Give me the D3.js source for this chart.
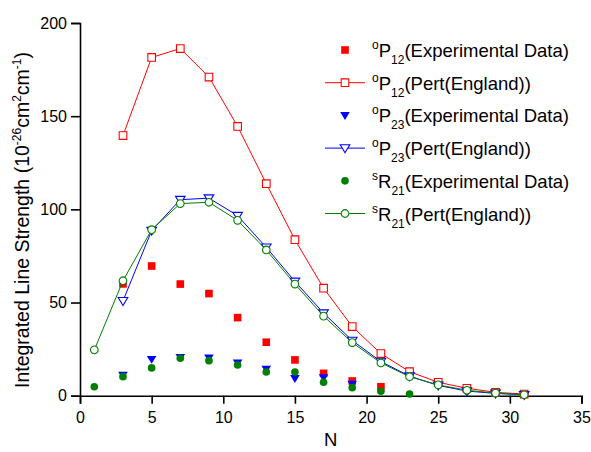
<!DOCTYPE html>
<html>
<head>
<meta charset="utf-8">
<script src="https://cdn.jsdelivr.net/npm/d3@7"></script>
<style>
  html, body { margin: 0; padding: 0; background: #fff; }
  svg { display: block; font-family: Arial, "Liberation Sans", sans-serif; }
</style>
</head>
<body>
<svg id="chart" width="591" height="452"></svg>
<script>
// Rotational quantum number N
const nPert = [3, 5, 7, 9, 11, 13, 15, 17, 19, 21, 23, 25, 27, 29, 31];
const nPertR = [1, 3, 5, 7, 9, 11, 13, 15, 17, 19, 21, 23, 25, 27, 29, 31];

// oP12 branch
const p12ExpN = [3, 5, 7, 9, 11, 13, 15, 17, 19, 21];
const p12Exp = [60, 69.6, 59.9, 54.8, 41.9, 28.7, 19.2, 12, 7.9, 4.8];
const p12Pert = [139.6, 181.5, 186.3, 171, 144.5, 113.8, 83.7, 57.7, 37.1, 22.6, 12.9, 7.2, 4, 1.8, 0.9];

// oP23 branch
const p23ExpN = [3, 5, 7, 9, 11, 13, 15, 17, 19];
const p23Exp = [11.1, 19.6, 20.6, 20.3, 17.7, 14.3, 9.3, 9.7, 6.3];
const p23Pert = [50.9, 88.6, 105.2, 106, 96.6, 79.6, 61.3, 44.3, 29.6, 18.3, 10.5, 5.5, 2.5, 1.2, 0.5];

// sR21 branch
const r21ExpN = [1, 3, 5, 7, 9, 11, 13, 15, 17, 19, 21, 23];
const r21Exp = [4.8, 10.2, 14.9, 20.1, 18.8, 16.5, 12.7, 12.7, 7.2, 4.3, 2.4, 0.9];
const r21Pert = [24.6, 61.7, 89.1, 103.1, 103.8, 94.1, 78.2, 59.9, 42.7, 28.5, 17.6, 10.2, 5.8, 2.9, 1.4, 0.5];

const xTicks = [0, 5, 10, 15, 20, 25, 30, 35];
const yTicks = [0, 50, 100, 150, 200];

const svg = d3.select("#chart");
const plotL = 80, plotR = 581.5, plotT = 23, plotB = 395.7;

const x = d3.scaleLinear().domain([0, 35]).range([plotL, plotR]);
const y = d3.scaleLinear().domain([0, 200]).range([plotB, plotT]);

const RED = "#ff0000", BLUE = "#0000ff", GREEN = "#008000";
const FONT = "Arial, 'Liberation Sans', sans-serif";

// Axes: major ticks outward with a minor tick between each pair
function minor(vals) {
  const out = [];
  for (let i = 0; i < vals.length - 1; i++) out.push((vals[i] + vals[i + 1]) / 2);
  return out;
}

const gx = svg.append("g").attr("transform", `translate(0,${plotB})`);
gx.call(d3.axisBottom(x).tickValues(minor(xTicks)).tickSize(4).tickFormat(""));
gx.call(d3.axisBottom(x).tickValues(xTicks).tickSize(8).tickPadding(8).tickFormat(d3.format("d")));
gx.selectAll("text").attr("font-size", 16).attr("fill", "#000").attr("font-family", FONT);

const gy = svg.append("g").attr("transform", `translate(${plotL},0)`);
gy.call(d3.axisLeft(y).tickValues(minor(yTicks)).tickSize(5).tickFormat(""));
gy.call(d3.axisLeft(y).tickValues(yTicks).tickSize(9).tickPadding(4).tickFormat(d3.format("d")));
gy.selectAll("text").attr("font-size", 16).attr("fill", "#000").attr("font-family", FONT);

svg.selectAll(".domain, .tick line").attr("stroke", "#000").attr("stroke-width", 1.6);

// Axis titles
svg.append("text")
  .attr("x", x(17.5)).attr("y", 446)
  .attr("text-anchor", "middle").attr("font-size", 18.5).text("N");

const yt = svg.append("text")
  .attr("transform", "translate(29,220) rotate(-90)")
  .attr("text-anchor", "middle").attr("font-size", 19.5);
yt.append("tspan").text("Integrated Line Strength (10");
yt.append("tspan").attr("dy", -8).attr("font-size", 12).text("-26");
yt.append("tspan").attr("dy", 8).text("cm");
yt.append("tspan").attr("dy", -8).attr("font-size", 12).text("2");
yt.append("tspan").attr("dy", 8).text("cm");
yt.append("tspan").attr("dy", -8).attr("font-size", 12).text("-1");
yt.append("tspan").attr("dy", 8).text(")");

// Marker shapes
const sq = d3.symbol().type(d3.symbolSquare).size(58)();
const triDown = "M-4.8,-3.3L4.8,-3.3L0,4.6Z";
const circ = d3.symbol().type(d3.symbolCircle).size(46)();

const line = d3.line().x(d => x(d[0])).y(d => y(d[1]));

function drawExp(ns, vals, path, color) {
  svg.append("g").selectAll("path").data(ns.map((n, i) => [n, vals[i]])).join("path")
    .attr("d", path)
    .attr("transform", d => `translate(${x(d[0])},${y(d[1])})`)
    .attr("fill", color);
}

function drawPert(ns, vals, path, color) {
  const pts = ns.map((n, i) => [n, vals[i]]);
  svg.append("path").datum(pts).attr("d", line)
    .attr("fill", "none").attr("stroke", color).attr("stroke-width", 1);
  svg.append("g").selectAll("path").data(pts).join("path")
    .attr("d", path)
    .attr("transform", d => `translate(${x(d[0])},${y(d[1])})`)
    .attr("fill", "#fff").attr("stroke", color).attr("stroke-width", 1.1);
}

drawExp(p12ExpN, p12Exp, sq, RED);
drawPert(nPert, p12Pert, sq, RED);
drawExp(p23ExpN, p23Exp, triDown, BLUE);
drawPert(nPert, p23Pert, triDown, BLUE);
drawExp(r21ExpN, r21Exp, circ, GREEN);
drawPert(nPertR, r21Pert, circ, GREEN);

// Legend
const legend = [
  { pre: "o", main: "P", sub: "12", txt: "(Experimental Data)", color: RED, path: sq, open: false },
  { pre: "o", main: "P", sub: "12", txt: "(Pert(England))", color: RED, path: sq, open: true },
  { pre: "o", main: "P", sub: "23", txt: "(Experimental Data)", color: BLUE, path: triDown, open: false },
  { pre: "o", main: "P", sub: "23", txt: "(Pert(England))", color: BLUE, path: triDown, open: true },
  { pre: "s", main: "R", sub: "21", txt: "(Experimental Data)", color: GREEN, path: circ, open: false },
  { pre: "s", main: "R", sub: "21", txt: "(Pert(England))", color: GREEN, path: circ, open: true }
];

const lg = svg.append("g");
legend.forEach((d, i) => {
  const cy = 50 + i * 32.7;
  const row = lg.append("g").attr("transform", `translate(0,${cy})`);
  if (d.open) {
    row.append("line").attr("x1", 325).attr("x2", 365).attr("y1", 0).attr("y2", 0)
      .attr("stroke", d.color).attr("stroke-width", 1);
    row.append("path").attr("d", d.path).attr("transform", "translate(345,0)")
      .attr("fill", "#fff").attr("stroke", d.color).attr("stroke-width", 1.1);
  } else {
    row.append("path").attr("d", d.path).attr("transform", "translate(345,0)").attr("fill", d.color);
  }
  const t = row.append("text").attr("x", 372).attr("y", 7).attr("font-size", 18.5).attr("fill", "#000");
  t.append("tspan").attr("font-size", 12).attr("dy", -8).text(d.pre);
  t.append("tspan").attr("dy", 8).text(d.main);
  t.append("tspan").attr("font-size", 12).attr("dy", 7).text(d.sub);
  t.append("tspan").attr("dy", -7).text(d.txt);
});
</script>
</body>
</html>
